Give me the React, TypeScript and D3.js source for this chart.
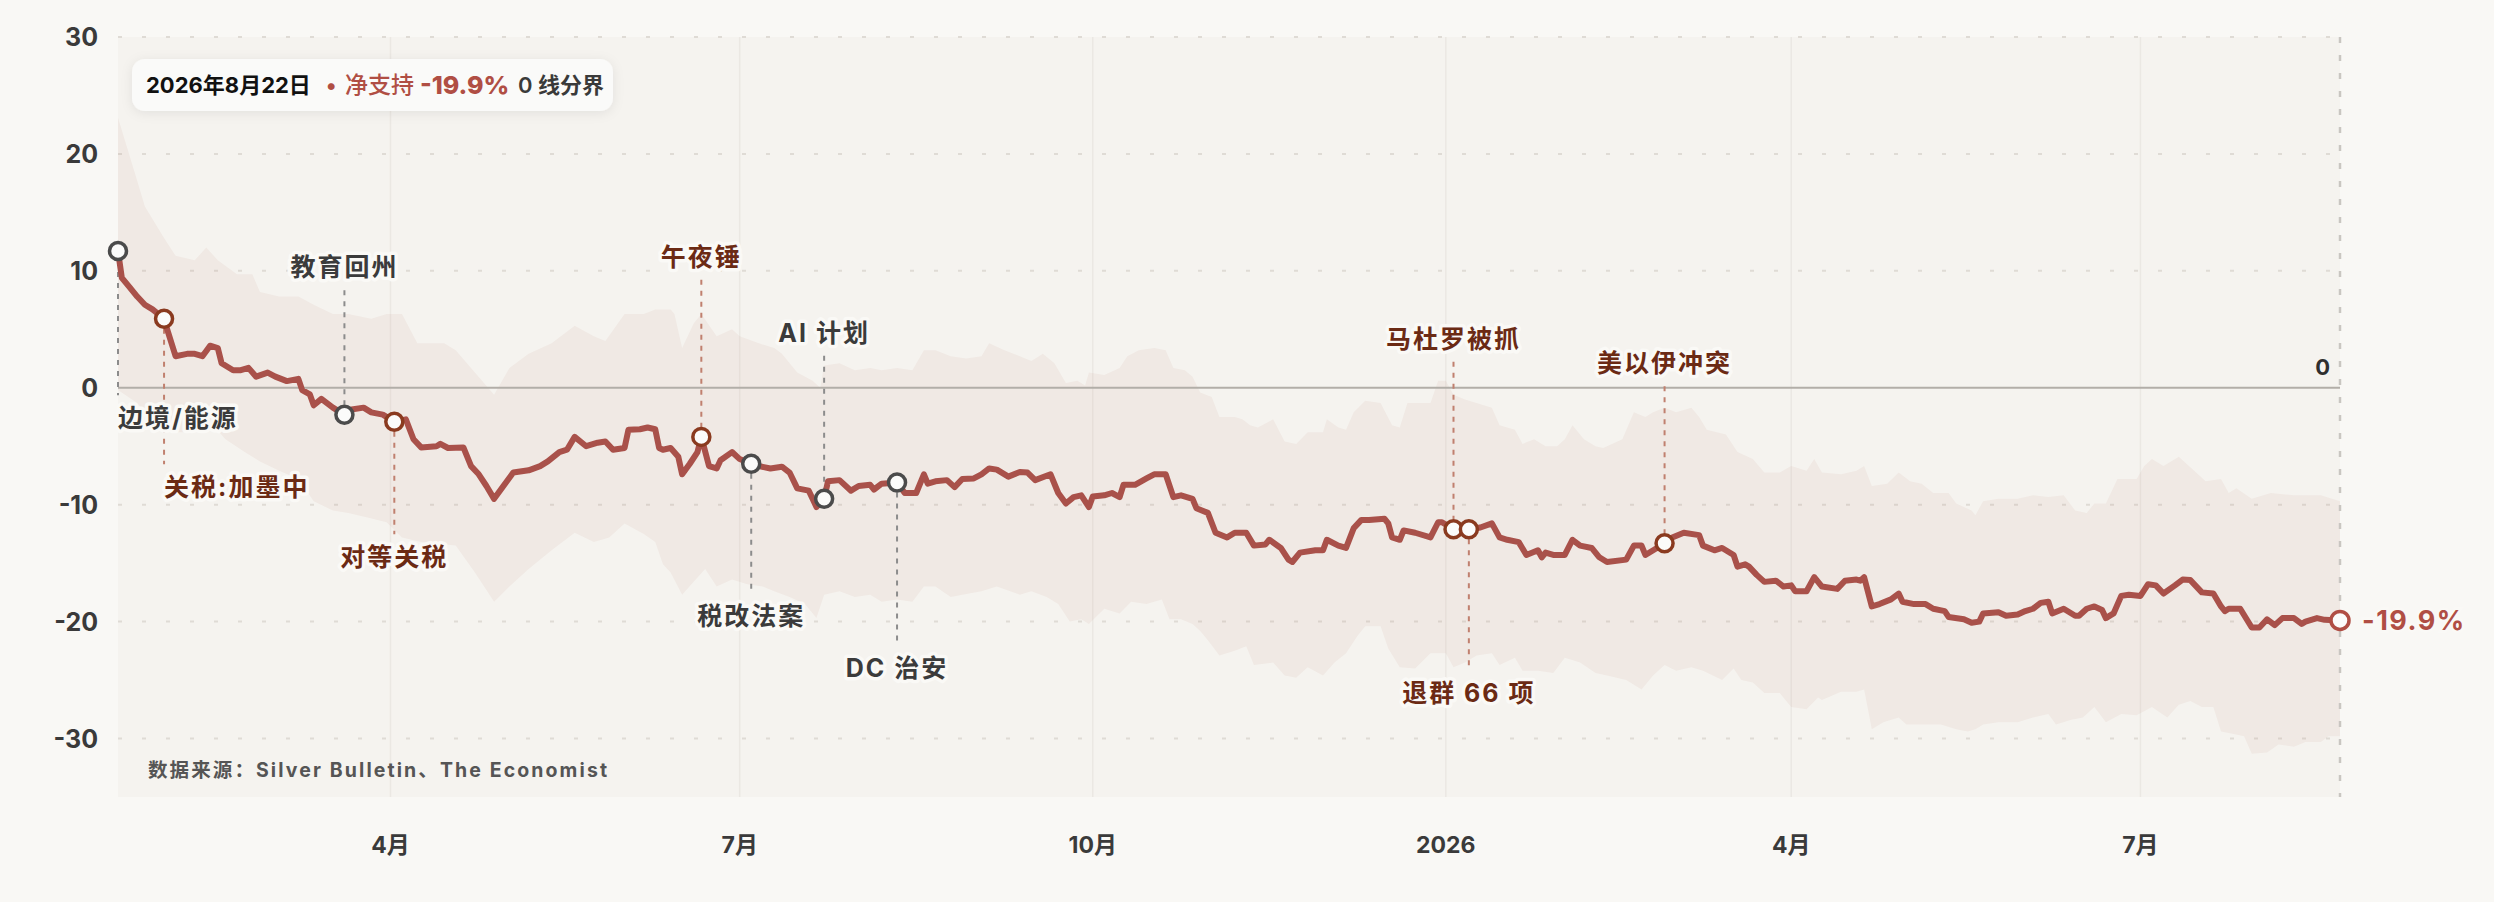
import React, { useEffect, useRef } from 'react';
import * as d3 from 'd3';

// day offsets are counted from the inauguration, 2025-01-20
const START = '2025-01-20';
const END = '2026-08-22';

// net approval (approve - disapprove), [day, value]
const netSupport: [number, number][] = [
  [0, 11.7], [1, 9.4], [3, 8.6], [5, 7.8], [7, 7.1], [9, 6.7], [12, 5.9], [13, 4.8], [15, 2.7], [18, 2.9],
  [20, 2.9], [22, 2.7], [24, 3.6], [26, 3.4], [27, 2.1], [30, 1.5], [32, 1.5], [34, 1.7], [36, 0.95], [39, 1.3],
  [41, 0.95], [44, 0.57], [47, 0.76], [48, -0.2], [50, -0.57], [51, -1.5], [53, -0.95], [56, -1.7], [59, -2.3], [60, -1.9],
  [64, -1.7], [66, -2.1], [69, -2.3], [72, -2.9], [75, -2.7], [77, -4.4], [79, -5.1], [83, -5.0], [84, -4.8], [86, -5.15],
  [90, -5.1], [92, -6.7], [94, -7.4], [96, -8.4], [98, -9.5], [100, -8.6], [103, -7.25], [107, -7.06], [110, -6.7], [112, -6.3],
  [115, -5.5], [117, -5.3], [119, -4.2], [122, -5.0], [125, -4.7], [127, -4.6], [129, -5.3], [132, -5.15], [133, -3.6], [136, -3.55],
  [138, -3.4], [140, -3.55], [141, -5.15], [142, -5.3], [144, -5.15], [146, -5.9], [147, -7.4], [149, -6.5], [151, -5.5], [152, -4.2],
  [154, -6.7], [156, -6.9], [157, -6.2], [160, -5.5], [162, -6.1], [165, -6.5], [167, -6.7], [170, -6.9], [173, -6.75], [175, -7.25],
  [177, -8.6], [180, -8.8], [182, -10.2], [184, -9.5], [185, -8.0], [188, -7.9], [191, -8.8], [193, -8.4], [196, -8.3], [197, -8.7],
  [199, -8.2], [203, -8.1], [205, -9.0], [208, -9.0], [210, -7.4], [211, -8.2], [213, -8.0], [216, -7.9], [218, -8.5], [220, -7.8],
  [223, -7.75], [225, -7.4], [227, -6.9], [229, -7.0], [232, -7.6], [235, -7.2], [237, -7.25], [239, -7.9], [243, -7.4], [245, -9.0],
  [247, -9.9], [249, -9.35], [251, -9.2], [253, -10.2], [254, -9.3], [257, -9.2], [259, -9.0], [261, -9.35], [262, -8.3], [265, -8.3],
  [268, -7.75], [270, -7.4], [273, -7.4], [275, -9.35], [277, -9.2], [280, -9.5], [281, -10.3], [284, -10.7], [286, -12.4], [289, -12.8],
  [291, -12.4], [294, -12.4], [296, -13.5], [299, -13.4], [300, -13.0], [303, -13.7], [305, -14.7], [306, -14.9], [308, -14.1], [312, -13.9],
  [314, -13.9], [315, -13.0], [318, -13.5], [320, -13.7], [322, -12.0], [324, -11.3], [326, -11.3], [330, -11.2], [331, -11.6], [332, -12.8],
  [334, -13.0], [335, -12.2], [338, -12.4], [342, -12.8], [344, -11.5], [345, -11.5], [348, -12.1], [352, -12.1], [355, -11.95], [358, -11.6],
  [360, -12.8], [362, -13.0], [365, -13.2], [367, -14.3], [370, -13.9], [371, -14.5], [372, -14.1], [374, -14.3], [377, -14.3], [379, -13.0],
  [381, -13.5], [384, -13.7], [386, -14.5], [388, -14.9], [393, -14.7], [395, -13.5], [397, -13.5], [398, -14.3], [401, -13.7], [403, -13.3],
  [405, -12.8], [408, -12.4], [412, -12.6], [413, -13.5], [416, -13.9], [418, -13.7], [421, -14.3], [422, -15.3], [424, -15.1], [425, -15.3],
  [427, -16.0], [429, -16.6], [432, -16.5], [434, -17.0], [436, -16.9], [437, -17.4], [440, -17.4], [442, -16.2], [444, -17.0], [448, -17.2],
  [450, -16.5], [453, -16.4], [454, -16.5], [455, -16.2], [457, -18.7], [459, -18.5], [462, -18.1], [464, -17.6], [465, -18.3], [468, -18.5],
  [471, -18.5], [473, -18.9], [476, -19.1], [477, -19.6], [481, -19.8], [483, -20.1], [485, -20.0], [486, -19.3], [490, -19.2], [492, -19.5],
  [495, -19.4], [497, -19.1], [499, -18.9], [501, -18.4], [503, -18.3], [504, -19.3], [507, -18.9], [510, -19.5], [511, -19.5], [513, -18.9],
  [515, -18.7], [517, -19.0], [518, -19.7], [520, -19.3], [522, -17.8], [524, -17.7], [527, -17.8], [529, -16.8], [531, -16.9], [533, -17.6],
  [536, -16.9], [538, -16.4], [540, -16.45], [543, -17.5], [546, -17.6], [548, -18.7], [549, -19.1], [550, -18.9], [553, -18.9], [556, -20.5],
  [558, -20.5], [560, -19.8], [562, -20.3], [564, -19.7], [567, -19.7], [569, -20.2], [570, -20.0], [573, -19.7], [575, -19.85], [579, -19.9],
];

// upper edge of the poll range
const rangeUpper: [number, number][] = [
  [0, 23.1], [5, 17.7], [7, 15.5], [12, 12.8], [15, 11.3], [20, 10.9], [23, 12.0], [26, 10.9], [31, 9.7], [35, 9.7],
  [37, 8.2], [42, 7.8], [47, 7.8], [51, 7.1], [56, 6.3], [60, 6.3], [66, 5.9], [70, 6.3], [74, 6.3], [78, 3.8],
  [85, 3.8], [88, 3.2], [93, 1.3], [98, -0.6], [102, 1.7], [107, 2.9], [113, 3.8], [119, 5.3], [124, 4.4], [127, 4.0],
  [132, 6.3], [137, 6.3], [140, 6.7], [144, 6.7], [145, 6.3], [147, 3.4], [150, 5.5], [152, 6.3], [156, 4.4], [160, 5.0],
  [162, 4.4], [167, 3.8], [171, 3.4], [173, 2.9], [177, 1.3], [181, 0.6], [183, 0.0], [184, 1.9], [188, 2.1], [192, 1.5],
  [196, 1.7], [199, 1.5], [203, 1.7], [207, 1.5], [210, 3.2], [213, 3.2], [217, 2.7], [221, 2.5], [225, 2.7], [227, 3.8],
  [231, 3.2], [235, 2.7], [238, 2.3], [241, 2.9], [244, 2.1], [247, 0.4], [250, 0.6], [252, 0.2], [253, 1.3], [257, 1.1],
  [261, 1.7], [263, 2.7], [266, 3.2], [270, 3.4], [273, 3.2], [275, 1.7], [278, 1.5], [280, 0.95], [282, -0.4], [285, -0.8],
  [287, -2.5], [291, -2.5], [293, -2.7], [295, -3.2], [297, -3.4], [301, -2.7], [304, -4.6], [307, -4.8], [310, -3.8], [314, -3.8],
  [315, -2.7], [318, -3.4], [320, -3.6], [322, -2.1], [325, -1.1], [329, -1.3], [332, -3.2], [334, -3.4], [336, -1.3], [342, -1.3],
  [344, 0.6], [346, 0.6], [348, -0.6], [351, -1.0], [354, -1.3], [358, -1.7], [360, -3.2], [364, -3.6], [366, -4.8], [369, -4.4],
  [372, -5.0], [375, -5.0], [377, -4.4], [379, -3.2], [382, -4.4], [385, -5.0], [387, -5.15], [392, -4.4], [395, -2.1], [398, -2.5],
  [400, -2.1], [403, -1.7], [406, -2.1], [410, -1.7], [412, -2.5], [414, -3.6], [419, -4.0], [422, -5.5], [426, -6.1], [429, -7.25],
  [433, -7.25], [436, -6.7], [440, -7.1], [442, -6.1], [444, -7.25], [449, -7.4], [453, -7.1], [455, -6.7], [457, -8.4], [461, -8.2],
  [464, -7.25], [467, -8.0], [470, -8.2], [473, -9.0], [477, -9.0], [479, -9.9], [483, -10.5], [484, -10.9], [486, -9.7], [490, -9.5],
  [495, -9.5], [499, -9.2], [503, -9.35], [507, -9.2], [510, -10.5], [513, -10.7], [515, -9.9], [518, -9.9], [521, -7.8], [526, -7.8],
  [528, -6.7], [530, -6.1], [533, -6.7], [537, -5.9], [541, -7.1], [544, -8.0], [548, -7.8], [550, -9.0], [552, -8.6], [556, -9.5],
  [561, -9.0], [567, -9.2], [574, -9.2], [579, -9.7],
];

// lower edge of the poll range
const rangeLower: [number, number][] = [
  [0, -0.2], [5, -1.3], [9, -2.9], [14, -3.8], [20, -3.8], [24, -2.9], [28, -4.4], [33, -5.5], [37, -6.3], [42, -7.1],
  [47, -7.8], [51, -9.7], [56, -10.5], [60, -10.7], [65, -11.1], [70, -11.5], [74, -12.8], [79, -13.2], [88, -13.5], [93, -15.8],
  [98, -18.3], [102, -17.0], [107, -15.5], [113, -13.9], [119, -12.4], [124, -13.2], [128, -12.8], [132, -11.6], [137, -12.5], [140, -13.2],
  [142, -15.1], [144, -15.8], [147, -17.7], [150, -16.6], [153, -15.5], [156, -17.0], [160, -16.4], [164, -16.8], [168, -17.0], [171, -17.4],
  [175, -17.9], [179, -18.5], [182, -19.7], [184, -17.7], [188, -17.4], [192, -17.9], [196, -17.7], [199, -18.3], [203, -18.1], [207, -18.3],
  [210, -17.0], [213, -17.0], [217, -17.9], [220, -17.7], [225, -17.4], [229, -17.0], [235, -17.7], [238, -17.4], [242, -17.9], [245, -18.5],
  [248, -20.0], [251, -19.8], [253, -20.2], [257, -18.9], [261, -19.3], [264, -18.3], [268, -18.5], [272, -18.1], [274, -19.8], [277, -19.8],
  [280, -20.2], [282, -20.8], [284, -21.6], [287, -22.9], [291, -22.5], [294, -22.1], [296, -23.7], [301, -23.5], [304, -24.6], [307, -24.8],
  [310, -23.9], [314, -24.6], [317, -23.5], [320, -22.7], [323, -21.2], [325, -20.4], [329, -20.4], [331, -22.3], [334, -23.9], [338, -24.0],
  [342, -22.7], [346, -22.7], [348, -23.9], [351, -23.5], [354, -22.9], [358, -22.7], [360, -23.7], [364, -23.1], [366, -24.2], [370, -24.2],
  [374, -24.4], [377, -23.1], [381, -23.5], [385, -24.4], [388, -24.6], [393, -25.0], [397, -25.8], [400, -24.6], [403, -23.7], [406, -24.2],
  [410, -23.9], [413, -24.2], [418, -25.0], [421, -24.0], [423, -25.0], [426, -25.2], [429, -26.1], [433, -26.1], [436, -27.3], [440, -27.5],
  [443, -26.5], [444, -26.7], [449, -26.0], [453, -26.0], [455, -25.8], [457, -29.2], [460, -28.6], [464, -28.2], [466, -28.8], [470, -28.8],
  [475, -28.8], [479, -29.2], [482, -29.4], [484, -29.2], [486, -28.8], [490, -28.6], [495, -28.6], [499, -28.2], [503, -27.9], [505, -28.8],
  [509, -28.4], [512, -28.2], [515, -27.3], [518, -28.6], [522, -27.9], [526, -28.0], [530, -27.3], [534, -28.2], [537, -27.1], [540, -26.8],
  [543, -27.3], [546, -27.3], [548, -29.4], [551, -29.6], [554, -29.8], [556, -31.3], [560, -31.2], [563, -30.5], [567, -30.7], [570, -30.3],
  [574, -30.3], [576, -29.8], [579, -29.8],
];

const yTicks = [30, 20, 10, 0, -10, -20, -30];
const monthTicks = ['2025-04-01', '2025-07-01', '2025-10-01', '2026-01-01', '2026-04-01', '2026-07-01'];
const monthLabels = ['4月', '7月', '10月', '2026', '4月', '7月'];

// events: date, label, tone (policy = grey, shock = brown)
const eventDates = ['2025-01-20', '2025-02-01', '2025-03-20', '2025-04-02', '2025-06-21', '2025-07-04',
  '2025-07-23', '2025-08-11', '2026-01-03', '2026-01-07', '2026-02-27'];
const eventNames = ['边境/能源', '关税:加墨中', '教育回州', '对等关税', '午夜锤', '税改法案',
  'AI 计划', 'DC 治安', '马杜罗被抓', '退群 66 项', '美以伊冲突'];
const eventTones = ['grey', 'brown', 'grey', 'brown', 'brown', 'grey', 'grey', 'grey', 'brown', 'brown', 'brown'];

// annotation layout: label level (in chart units) and text anchor
const labelLevels = [-2.6, -8.5, 10.3, -14.5, 11.2, -19.5, 4.7, -24, 4.2, -26.1, 2.1];
const labelAnchors = ['start', 'start', 'middle', 'middle', 'middle', 'middle', 'middle', 'middle', 'middle', 'middle', 'middle'];

const tooltipDate = '2026年8月22日';
const latestValue = -19.9;
const sourceText = '数据来源：Silver Bulletin、The Economist';

const FONT = "Inter, 'Noto Sans CJK SC', 'Noto Sans', sans-serif";

const App: React.FC = () => {
  const svgRef = useRef<SVGSVGElement>(null);
  const width = 2494;
  const height = 902;

  useEffect(() => {
    document.body.style.margin = '0';
    if (!svgRef.current) return;
    const svg = d3.select(svgRef.current);
    svg.selectAll('*').remove();

    const parse = d3.timeParse('%Y-%m-%d');
    const start = parse(START)!;
    const toDate = (d: number) => d3.timeDay.offset(start, d);

    const left = 118;
    const right = 2340;
    const top = 37;
    const bottom = 797;

    const x = d3.scaleTime().domain([start, parse(END)!]).range([left, right]);
    const y = d3.scaleLinear().domain([-35, 30]).range([bottom, top]);

    const red = '#a9514a';
    const brown = '#8a3a1f';
    const grey = '#4b4b4b';

    // page + plot background
    svg.append('rect').attr('width', width).attr('height', height).attr('fill', '#f9f8f5');
    svg.append('rect')
      .attr('x', left).attr('y', top)
      .attr('width', right - left).attr('height', bottom - top)
      .attr('fill', '#f5f3ef');

    const defs = svg.append('defs');
    const shadow = defs.append('filter').attr('id', 'tipShadow')
      .attr('x', '-10%').attr('y', '-40%').attr('width', '120%').attr('height', '180%');
    shadow.append('feDropShadow')
      .attr('dx', 0).attr('dy', 2).attr('stdDeviation', 6)
      .attr('flood-color', '#000').attr('flood-opacity', 0.08);

    // month grid
    svg.append('g').selectAll('line')
      .data(monthTicks)
      .enter()
      .append('line')
      .attr('x1', d => x(parse(d)!)).attr('x2', d => x(parse(d)!))
      .attr('y1', top).attr('y2', bottom)
      .attr('stroke', '#ebe8e3').attr('stroke-width', 1.5);

    // value grid
    svg.append('g').selectAll('line')
      .data(yTicks.filter(v => v !== 0))
      .enter()
      .append('line')
      .attr('x1', left).attr('x2', right)
      .attr('y1', d => y(d)).attr('y2', d => y(d))
      .attr('stroke', '#dfdbd5').attr('stroke-width', 2)
      .attr('stroke-dasharray', '4 20');

    // poll range band: upper edge forward, lower edge back
    const edge = d3.line<[number, number]>()
      .x(d => x(toDate(d[0])))
      .y(d => y(d[1]));
    const bandPts = [...rangeUpper, ...rangeLower.slice().reverse()];
    svg.append('path')
      .attr('d', edge(bandPts) + 'Z')
      .attr('fill', '#b04e44')
      .attr('fill-opacity', 0.06);

    // zero line
    svg.append('line')
      .attr('x1', left).attr('x2', right)
      .attr('y1', y(0)).attr('y2', y(0))
      .attr('stroke', '#b2aea8').attr('stroke-width', 2);

    // latest-date marker line
    svg.append('line')
      .attr('x1', right).attr('x2', right)
      .attr('y1', top).attr('y2', bottom)
      .attr('stroke', '#c9c6c1').attr('stroke-width', 2.5)
      .attr('stroke-dasharray', '6 12');

    const events = eventDates.map((d, i) => {
      const date = parse(d)!;
      const day = d3.timeDay.count(start, date);
      // sit the marker on the line
      const j = d3.bisector((p: [number, number]) => p[0]).left(netSupport, day);
      const p = netSupport[Math.min(j, netSupport.length - 1)];
      return {
        date, name: eventNames[i], tone: eventTones[i],
        value: p[1], level: labelLevels[i], anchor: labelAnchors[i],
      };
    });

    // connectors
    const conn = svg.append('g');
    events.forEach(e => {
      const ex = x(e.date);
      const ey = y(e.value);
      const ly = y(e.level);
      const below = ly > ey;
      conn.append('line')
        .attr('x1', ex).attr('x2', ex)
        .attr('y1', below ? ey + 10 : ly + 23)
        .attr('y2', below ? ly - 23 : ey - 10)
        .attr('stroke', e.tone === 'grey' ? '#8c8c8c' : '#c0806f')
        .attr('stroke-width', 2)
        .attr('stroke-dasharray', '5 6');
    });

    // main line
    const line = d3.line<[number, number]>()
      .x(d => x(toDate(d[0])))
      .y(d => y(d[1]))
      .curve(d3.curveLinear);
    svg.append('path')
      .datum(netSupport)
      .attr('d', line)
      .attr('fill', 'none')
      .attr('stroke', red)
      .attr('stroke-width', 6)
      .attr('stroke-linejoin', 'round')
      .attr('stroke-linecap', 'round');

    // event markers
    svg.append('g').selectAll('circle')
      .data(events)
      .enter()
      .append('circle')
      .attr('cx', d => x(d.date))
      .attr('cy', d => y(d.value))
      .attr('r', 8.5)
      .attr('fill', '#fbfbfa')
      .attr('stroke', d => d.tone === 'grey' ? grey : brown)
      .attr('stroke-width', 3.5);

    // event labels
    svg.append('g').selectAll('text')
      .data(events)
      .enter()
      .append('text')
      .attr('x', d => x(d.date))
      .attr('y', d => y(d.level))
      .attr('text-anchor', d => d.anchor)
      .attr('dominant-baseline', 'central')
      .attr('font-family', FONT)
      .attr('font-size', 25)
      .attr('font-weight', 700)
      .attr('letter-spacing', 2)
      .attr('fill', d => d.tone === 'grey' ? '#3b3b3b' : '#6b2a14')
      .attr('stroke', '#faf9f6')
      .attr('stroke-width', 7)
      .attr('stroke-linejoin', 'round')
      .attr('paint-order', 'stroke')
      .text(d => d.name);

    // latest point
    const last = netSupport[netSupport.length - 1];
    svg.append('circle')
      .attr('cx', x(toDate(last[0])))
      .attr('cy', y(last[1]))
      .attr('r', 9)
      .attr('fill', '#fbfbfa')
      .attr('stroke', '#b04e44')
      .attr('stroke-width', 3.5);
    svg.append('text')
      .attr('x', x(toDate(last[0])) + 22)
      .attr('y', y(last[1]))
      .attr('dominant-baseline', 'central')
      .attr('font-family', FONT)
      .attr('font-size', 27)
      .attr('font-weight', 700)
      .attr('letter-spacing', 1.5)
      .attr('fill', '#b04e44')
      .attr('stroke', '#faf9f6')
      .attr('stroke-width', 6)
      .attr('paint-order', 'stroke')
      .text(`${latestValue.toFixed(1)}%`);

    // zero label
    svg.append('text')
      .attr('x', right - 10)
      .attr('y', y(0) - 21)
      .attr('text-anchor', 'end')
      .attr('dominant-baseline', 'central')
      .attr('font-family', FONT)
      .attr('font-size', 22)
      .attr('font-weight', 700)
      .attr('fill', '#2f2f2f')
      .text('0');

    // y axis labels
    svg.append('g').selectAll('text')
      .data(yTicks)
      .enter()
      .append('text')
      .attr('x', 98)
      .attr('y', d => y(d))
      .attr('text-anchor', 'end')
      .attr('dominant-baseline', 'central')
      .attr('font-family', FONT)
      .attr('font-size', 25)
      .attr('font-weight', 700)
      .attr('fill', '#3a3a3a')
      .text(d => String(d));

    // x axis labels
    svg.append('g').selectAll('text')
      .data(monthTicks)
      .enter()
      .append('text')
      .attr('x', d => x(parse(d)!))
      .attr('y', 845)
      .attr('text-anchor', 'middle')
      .attr('dominant-baseline', 'central')
      .attr('font-family', FONT)
      .attr('font-size', 23)
      .attr('font-weight', 700)
      .attr('fill', '#3a3a3a')
      .text((d, i) => monthLabels[i]);

    // source
    svg.append('text')
      .attr('x', 148)
      .attr('y', 770)
      .attr('dominant-baseline', 'central')
      .attr('font-family', FONT)
      .attr('font-size', 19.5)
      .attr('font-weight', 700)
      .attr('letter-spacing', 2.1)
      .attr('fill', '#555')
      .text(sourceText);

    // readout box
    const tip = svg.append('g');
    tip.append('rect')
      .attr('x', 132).attr('y', 59)
      .attr('width', 481).attr('height', 52)
      .attr('rx', 13)
      .attr('fill', '#fafaf9')
      .attr('filter', 'url(#tipShadow)');
    const tipText = tip.append('text')
      .attr('y', 85)
      .attr('dominant-baseline', 'central')
      .attr('font-family', FONT)
      .attr('font-size', 22);
    tipText.append('tspan').attr('x', 146).attr('font-weight', 700).attr('fill', '#111').text(tooltipDate);
    tipText.append('tspan').attr('x', 326).attr('font-weight', 700).attr('fill', '#b04e44').text('•');
    tipText.append('tspan').attr('x', 345).attr('font-size', 23).attr('font-weight', 500).attr('fill', '#b04e44').text('净支持');
    tipText.append('tspan').attr('x', 420).attr('font-size', 25).attr('font-weight', 800).attr('fill', '#b04e44').text(`${latestValue.toFixed(1)}%`);
    tipText.append('tspan').attr('x', 518).attr('font-weight', 600).attr('fill', '#3a3a3a').text('0 线分界');
  }, []);

  return <svg ref={svgRef} width={width} height={height} style={{ display: 'block' }} />;
};

export default App;
